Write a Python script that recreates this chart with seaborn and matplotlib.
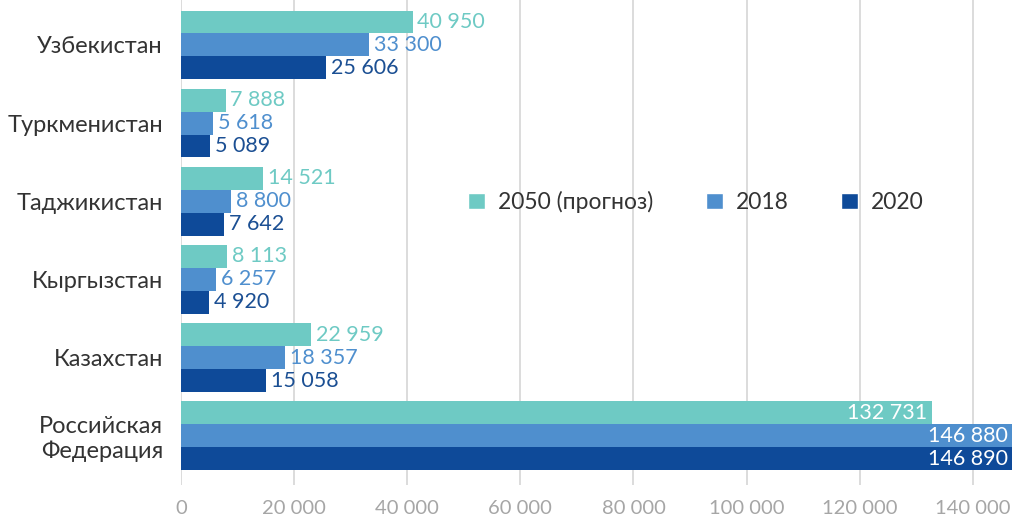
import pandas as pd
import matplotlib.pyplot as plt
import seaborn as sns
from matplotlib.patches import Patch

# Population by country (thousands)
countries = ["Узбекистан", "Туркменистан", "Таджикистан", "Кыргызстан",
             "Казахстан", "Российская\nФедерация"]
series = ["2050 (прогноз)", "2018", "2020"]
pop_2050 = [40950, 7888, 14521, 8113, 22959, 132731]
pop_2018 = [33300, 5618, 8800, 6257, 18357, 146880]
pop_2020 = [25606, 5089, 7642, 4920, 15058, 146890]

colors = ["#6ecac4", "#4f8fce", "#0e4a99"]
label_colors = ["#6ecac4", "#4f8fce", "#1b4f93"]

df = pd.DataFrame({
    "country": countries * 3,
    "series": [s for s in series for _ in countries],
    "value": pop_2050 + pop_2018 + pop_2020,
})

sns.set_theme(style="white")
plt.rcParams["font.family"] = ["Lato", "DejaVu Sans"]

fig = plt.figure(figsize=(10.19, 5.26), dpi=100)
ax = fig.add_axes([0.1776, 0.078, 0.8154, 0.922])

sns.barplot(data=df, y="country", x="value", hue="series", hue_order=series,
            order=countries, palette=colors, width=0.88, orient="h",
            saturation=1, linewidth=0, ax=ax, legend=False, zorder=2)

ax.set_xlim(0, 146890)
ax.set_ylim(5.63, -0.575)
ax.set_xticks(range(0, 140001, 20000))
ax.set_xticklabels([f"{v:,}".replace(",", " ") for v in range(0, 140001, 20000)],
                   color="#a6a6a6", fontsize=14.5)
ax.tick_params(axis="y", labelsize=17, labelcolor="#333333", length=0, pad=13)
ax.tick_params(axis="x", length=0, pad=11)
ax.grid(axis="x", color="#d9d9d9", linewidth=1.3, zorder=0)
ax.set_axisbelow(True)
for s in ax.spines.values():
    s.set_visible(False)
ax.set_xlabel("")
ax.set_ylabel("")

# value labels
for i, container in enumerate(ax.containers):
    for j, bar in enumerate(container):
        val = bar.get_width()
        txt = f"{int(val):,}".replace(",", " ")
        yc = bar.get_y() + bar.get_height() / 2
        if j == len(countries) - 1:
            ax.annotate(txt, (val, yc), xytext=(-3, 0), textcoords="offset points",
                        ha="right", va="center", color="white", fontsize=15.5)
        else:
            ax.annotate(txt, (val, yc), xytext=(3.5, 0), textcoords="offset points",
                        ha="left", va="center", color=label_colors[i], fontsize=15.5)

handles = [Patch(facecolor=c, label=s) for c, s in zip(colors, series)]
fig.legend(handles=handles, loc="center", bbox_to_anchor=(0.683, 0.616), ncol=3,
           frameon=False, fontsize=16.5, handlelength=0.75, handleheight=0.75,
           handletextpad=0.55, columnspacing=2.3, labelcolor="#333333")

fig.savefig("out.png", dpi=100)
